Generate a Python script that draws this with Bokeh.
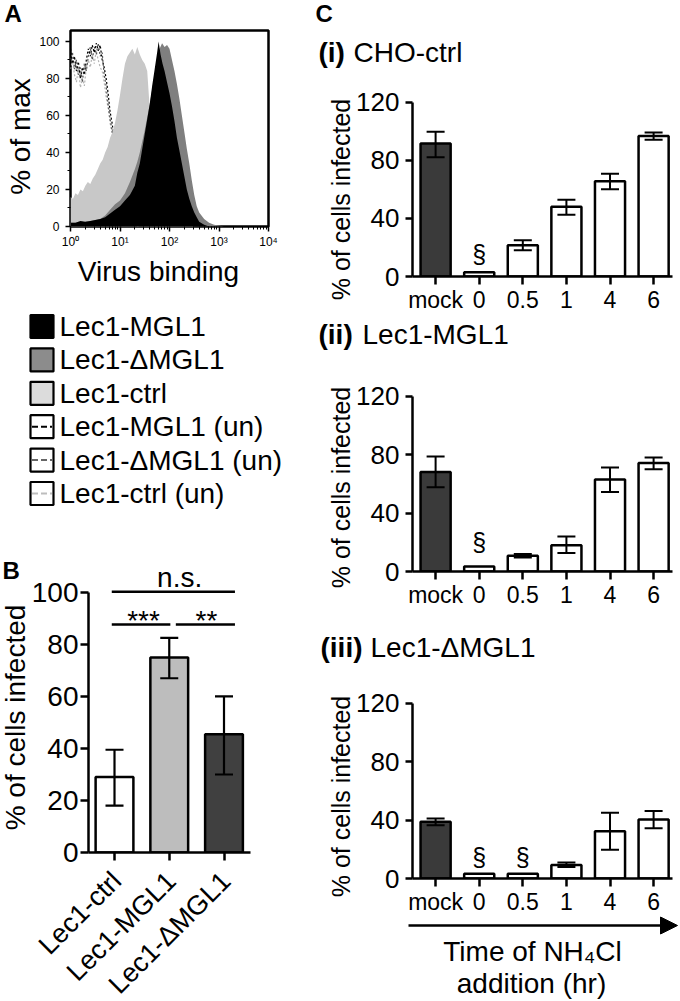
import math
import numpy as np
from bokeh.plotting import figure
from bokeh.models import Range1d, FixedTicker, ColumnDataSource, Whisker, TeeHead, Arrow, NormalHead
from bokeh.core.properties import value
from bokeh.embed import file_html
from bokeh.resources import INLINE

FONT = "Liberation Sans"
NAN = float("nan")
PAGE_W, PAGE_H = 680, 1001

# ---------------- Panel A: flow histogram readings (log10 virus binding, % of max) ----
a_ctrl_logx = [0.00, 0.05, 0.10, 0.15, 0.20, 0.25, 0.30, 0.35, 0.40, 0.45, 0.50, 0.55, 0.60,
               0.65, 0.70, 0.75, 0.80, 0.85, 0.90, 0.95, 1.00, 1.05, 1.10, 1.15, 1.20, 1.25,
               1.30, 1.35, 1.40, 1.45, 1.50, 1.55, 1.60, 1.65, 1.70, 1.80, 1.90, 2.00, 2.10,
               2.20, 2.30, 2.40, 2.50]
a_ctrl_pct = [16, 15, 18, 17, 20, 19, 22, 24, 23, 26, 28, 31, 34, 36, 40, 43, 48, 51, 56, 63,
              71, 80, 88, 92, 94, 96, 93, 97, 93, 90, 88, 84, 64, 52, 42, 28, 18, 12, 7, 4, 2, 1, 0]

a_dmgl1_logx = [0.0, 0.2, 0.4, 0.6, 0.7, 0.8, 0.9, 1.0, 1.1, 1.2, 1.3, 1.35, 1.4, 1.5, 1.6, 1.7,
                1.75, 1.8, 1.85, 1.9, 1.95, 2.0, 2.05, 2.1, 2.15, 2.2, 2.25, 2.3, 2.35, 2.4, 2.45,
                2.5, 2.55, 2.6, 2.7, 2.8, 2.9, 3.0, 3.1]
a_dmgl1_pct = [2, 2, 3, 4, 6, 9, 12, 14, 18, 24, 31, 35, 40, 52, 66, 82, 90, 96, 99, 97, 98, 96,
               90, 84, 77, 69, 60, 51, 42, 34, 25, 17, 11, 7.5, 4, 2, 1, 0.5, 0]

a_mgl1_logx = [0.0, 0.1, 0.2, 0.3, 0.4, 0.5, 0.6, 0.7, 0.8, 0.9, 1.0, 1.1, 1.2, 1.3, 1.35, 1.4,
               1.45, 1.5, 1.55, 1.6, 1.65, 1.7, 1.75, 1.78, 1.82, 1.86, 1.9, 1.95, 2.0, 2.05, 2.1,
               2.15, 2.2, 2.25, 2.3, 2.35, 2.4, 2.45, 2.5, 2.55, 2.6, 2.7, 2.8]
a_mgl1_pct = [2, 2, 3, 2.5, 3, 3.5, 4, 5, 7, 9, 11, 14, 17, 22, 29, 34, 42, 50, 58, 66, 76, 85,
              94, 100, 93, 88, 84, 78, 72, 65, 57, 48, 41, 34, 27, 20, 15, 11, 7.5, 5, 2.5, 1, 0]

a_un_logx = [0.00, 0.04, 0.08, 0.12, 0.16, 0.20, 0.24, 0.28, 0.32, 0.36, 0.40, 0.44, 0.48, 0.52,
             0.56, 0.60, 0.64, 0.68, 0.72, 0.76, 0.80, 0.84, 0.88, 0.95, 1.00, 1.10, 1.20, 1.30, 1.40]
a_un_mgl1_pct = [96, 88, 92, 84, 89, 80, 86, 82, 90, 96, 92, 98, 94, 99, 95, 98, 90, 86, 80, 72,
                 62, 56, 48, 35, 25, 12, 5, 2, 0]
a_un_dmgl1_pct = [90, 94, 85, 90, 82, 86, 78, 88, 84, 92, 97, 90, 97, 93, 99, 92, 94, 82, 76, 66,
                  58, 52, 45, 32, 22, 10, 4, 1, 0]
a_un_ctrl_pct = [85, 90, 82, 78, 86, 75, 80, 76, 86, 90, 86, 93, 88, 95, 90, 86, 84, 78, 70, 64,
                 56, 50, 44, 30, 20, 9, 3, 1, 0]

a_xticks = [1, 10, 100, 1000, 10000]
a_xtick_labels = ["10⁰", "10¹", "10²", "10³", "10⁴"]
a_yticks = [0, 20, 40, 60, 80, 100]

legend_labels = ["Lec1-MGL1", "Lec1-ΔMGL1", "Lec1-ctrl",
                 "Lec1-MGL1 (un)", "Lec1-ΔMGL1 (un)", "Lec1-ctrl (un)"]
legend_fill = ["#000000", "#8c8c8c", "#dcdcdc", "#ffffff", "#ffffff", "#ffffff"]
legend_dash = ["#000000", "#666666", "#bdbdbd"]

# ---------------- Panel B ----------------
b_groups = ["Lec1-ctrl", "Lec1-MGL1", "Lec1-ΔMGL1"]
b_mean = [29, 75, 45.5]
b_low = [18, 67, 30]
b_high = [39.5, 82.5, 60]
b_colors = ["#ffffff", "#bdbdbd", "#404040"]
b_yticks = [0, 20, 40, 60, 80, 100]
b_sig_x0 = [-0.05, -0.05, 1.12]
b_sig_x1 = [2.2, 1.02, 2.2]
b_sig_y = [100.3, 87.7, 87.7]
b_sig_text = ["n.s.", "***", "**"]
b_sig_tx = [1.19, 0.53, 1.68]
b_sig_ty = [105.6, 89.2, 89.2]

# ---------------- Panel C ----------------
c_times = ["mock", "0", "0.5", "1", "4", "6"]
c_colors = ["#3a3a3a", "#ffffff", "#ffffff", "#ffffff", "#ffffff", "#ffffff"]
c_yticks = [0, 40, 80, 120]
c_title_tag = ["(i)", "(ii)", "(iii)"]
c_title_name = ["CHO-ctrl", "Lec1-MGL1", "Lec1-ΔMGL1"]
c_mean_i = [91.5, 3, 21.5, 48, 65.5, 96.7]
c_low_i = [82, NAN, 18, 42.5, 60, 94]
c_high_i = [99.6, NAN, 25, 52.8, 70.6, 99]
c_mark_i = ["", "§", "", "", "", ""]
c_mean_ii = [68, 3.4, 10.7, 18, 63, 74.3]
c_low_ii = [57.7, NAN, 9.5, 12.7, 54.4, 70]
c_high_ii = [78.7, NAN, 12, 24, 71.2, 78]
c_mark_ii = ["", "§", "", "", "", ""]
c_mean_iii = [38.8, 3.2, 3.2, 9.2, 32.3, 40.4]
c_low_iii = [36.5, NAN, NAN, 7.8, 19.6, 34.4]
c_high_iii = [41.1, NAN, NAN, 10.9, 45, 46.2]
c_mark_iii = ["", "§", "§", "", "", ""]


# ---------------- helpers ----------------
def make_fig(w, h, left, right, top, bottom, xr, yr, page_x, page_y, **kw):
    p = figure(width=w, height=h, x_range=xr, y_range=yr, output_backend="svg",
               toolbar_location=None, tools="", min_border_left=left, min_border_right=right,
               min_border_top=top, min_border_bottom=bottom, **kw)
    p.grid.visible = False
    p.outline_line_color = None
    p.background_fill_color = "white"
    p.border_fill_color = "white"
    p.styles = {"position": "absolute", "left": f"{page_x}px", "top": f"{page_y}px"}
    return p


def style_axis(ax, size, tick_out, standoff, lw=2.5):
    ax.axis_line_width = lw
    ax.axis_line_color = "black"
    ax.major_tick_line_width = lw
    ax.major_tick_line_color = "black"
    ax.major_tick_out = tick_out
    ax.major_tick_in = 0
    ax.minor_tick_line_color = None
    ax.major_label_text_font = FONT
    ax.major_label_text_font_size = f"{size}px"
    ax.major_label_text_color = "black"
    ax.major_label_standoff = standoff


# ---------------- Panel A figure (frame: x 70-268, y 30-226) ----------------
pA = make_fig(280, 290, 70, 12, 30, 64, Range1d(1, 10000), Range1d(0, 105.9), 0, 0,
              x_axis_type="log")
pA.outline_line_color = "black"
pA.outline_line_width = 2.5
for pct, col in [(a_un_ctrl_pct, "#b5b5b5"), (a_un_dmgl1_pct, "#555555"),
                 (a_un_mgl1_pct, "#000000")]:
    pA.line(10 ** np.array(a_un_logx), pct, line_dash="2 2", line_color=col, line_width=1.2)
pA.varea(x=10 ** np.array(a_ctrl_logx), y1=0, y2=a_ctrl_pct, fill_color="#c8c8c8")
pA.varea(x=10 ** np.array(a_dmgl1_logx), y1=0, y2=a_dmgl1_pct, fill_color="#7f7f7f")
pA.varea(x=10 ** np.array(a_mgl1_logx), y1=0, y2=a_mgl1_pct, fill_color="#000000")

minor = [m * 10 ** k for k in range(4) for m in range(2, 10)]
xa = pA.xaxis[0]
xa.ticker = FixedTicker(ticks=a_xticks, minor_ticks=minor)
xa.major_label_overrides = {t: s for t, s in zip(a_xticks, a_xtick_labels)}
ya = pA.yaxis[0]
ya.ticker = FixedTicker(ticks=a_yticks, minor_ticks=[10, 30, 50, 70, 90])
for ax in (xa, ya):
    ax.axis_line_color = None
    ax.major_tick_line_color = "black"
    ax.major_tick_line_width = 1.5
    ax.major_tick_out = 5
    ax.major_tick_in = 0
    ax.minor_tick_line_color = "black"
    ax.minor_tick_line_width = 1
    ax.minor_tick_out = 3
    ax.minor_tick_in = 0
    ax.major_label_text_font = FONT
    ax.major_label_text_font_size = "12px"
    ax.major_label_text_color = "black"
    ax.major_label_standoff = 3
ya.major_label_standoff = 6

# ---------------- Panel B figure (frame: x 88-250, y 555-852) ----------------
B_X0, B_X1 = -0.475, 2.484
B_FL, B_FW = 88, 162
pB = make_fig(280, 461, B_FL, 30, 15, 149, Range1d(B_X0, B_X1), Range1d(0, 114.2), 0, 540)
bx = list(range(len(b_groups)))
pB.vbar(x=bx, top=b_mean, bottom=0, width=0.69, fill_color=b_colors, line_color="black",
        line_width=2.5)
srcB = ColumnDataSource(dict(x=bx, lo=b_low, hi=b_high))
pB.add_layout(Whisker(source=srcB, base="x", lower="lo", upper="hi", line_width=2.2,
                      line_color="black", level="annotation",
                      upper_head=TeeHead(size=18, line_width=2.2, line_color="black"),
                      lower_head=TeeHead(size=18, line_width=2.2, line_color="black")))
pB.segment(x0=b_sig_x0, y0=b_sig_y, x1=b_sig_x1, y1=b_sig_y, line_color="black",
           line_width=2.5)
pB.text(x=b_sig_tx, y=b_sig_ty, text=b_sig_text, text_font=value(FONT),
        text_font_size="28px", text_align="center", text_baseline="middle",
        text_color="black")
style_axis(pB.yaxis[0], 28, 8, 2)
pB.yaxis[0].ticker = FixedTicker(ticks=b_yticks)
pB.yaxis[0].bounds = (0, 100)
style_axis(pB.xaxis[0], 26, 8, 0)
pB.xaxis[0].ticker = FixedTicker(ticks=bx)
# the rotated group names are drawn on the overlay (below), so the axis keeps empty labels
pB.xaxis[0].major_label_overrides = {i: "" for i in bx}

# ---------------- Panel C figures ----------------
c_sets = [
    (c_mean_i, c_low_i, c_high_i, c_mark_i),
    (c_mean_ii, c_low_ii, c_high_ii, c_mark_ii),
    (c_mean_iii, c_low_iii, c_high_iii, c_mark_iii),
]
c_page_y = [0, 315, 610]
c_fig_h = [315, 295, 391]
c_top = [95, 74, 86]
c_bottom = [38, 39, 123]
c_mark_off = [18, 25, 17]

c_figs = []
cx = list(range(len(c_times)))
for k, (mean, lo, hi, marks) in enumerate(c_sets):
    p = make_fig(400, c_fig_h[k], 132, 8, c_top[k], c_bottom[k],
                 Range1d(-0.53, -0.53 + 260 / 43.6), Range1d(0, 124.5), 280, c_page_y[k])
    p.vbar(x=cx, top=mean, bottom=0, width=0.69, fill_color=c_colors, line_color="black",
           line_width=2.5)
    keep = [i for i in cx if not math.isnan(lo[i])]
    src = ColumnDataSource(dict(x=[cx[i] for i in keep], lo=[lo[i] for i in keep],
                                hi=[hi[i] for i in keep]))
    p.add_layout(Whisker(source=src, base="x", lower="lo", upper="hi", line_width=2,
                         line_color="black", level="annotation",
                         upper_head=TeeHead(size=18, line_width=2, line_color="black"),
                         lower_head=TeeHead(size=18, line_width=2, line_color="black")))
    mk = [i for i in cx if marks[i]]
    p.text(x=[cx[i] for i in mk], y=[mean[i] for i in mk], text=[marks[i] for i in mk],
           text_font=value(FONT), text_font_size="25px", text_align="center",
           text_baseline="middle", y_offset=-c_mark_off[k], text_color="black")
    style_axis(p.yaxis[0], 26, 7, 6)
    p.yaxis[0].ticker = FixedTicker(ticks=c_yticks)
    p.yaxis[0].bounds = (0, 120)
    style_axis(p.xaxis[0], 23, 8, 2)
    p.xaxis[0].ticker = FixedTicker(ticks=cx)
    p.xaxis[0].major_label_overrides = {i: t for i, t in zip(cx, c_times)}
    c_figs.append(p)

# ---------------- transparent overlay: panel letters, titles, axis titles, legend, arrow ----
ov = figure(width=PAGE_W, height=PAGE_H, x_range=Range1d(0, PAGE_W), y_range=Range1d(0, PAGE_H),
            output_backend="svg", toolbar_location=None, tools="", min_border=0,
            x_axis_location=None, y_axis_location=None)
ov.grid.visible = False
ov.outline_line_color = None
ov.background_fill_color = None
ov.border_fill_color = None
ov.styles = {"position": "absolute", "left": "0px", "top": "0px"}


def otext(X, Y, text, size, bold=False, angle=0.0, align="left"):
    ov.text(x=[X], y=[PAGE_H - Y], text=[text], text_font=value(FONT),
            text_font_size=f"{size}px", text_font_style="bold" if bold else "normal",
            angle=angle, text_align=align, text_baseline="middle", text_color="black")


# panel A texts
otext(4, 13, "A", 24, bold=True)
otext(20, 136, "% of max", 28, angle=math.pi / 2, align="center")
otext(158, 271, "Virus binding", 28, align="center")

# legend
rows_y = 326 + 33.4 * np.arange(len(legend_labels))
ov.rect(x=41.5, y=PAGE_H - rows_y, width=23, height=23, fill_color=legend_fill,
        line_color="black", line_width=2.2)
ov.segment(x0=31.5, y0=PAGE_H - rows_y[3:], x1=51.5, y1=PAGE_H - rows_y[3:],
           line_color=legend_dash, line_dash="6 3", line_width=2)
ov.text(x=59, y=PAGE_H - rows_y, text=legend_labels, text_font=value(FONT),
        text_font_size="28px", text_baseline="middle", text_align="left", text_color="black")

# panel B texts
otext(2, 570, "B", 24, bold=True)
otext(15, 717, "% of cells infected", 28, angle=math.pi / 2, align="center")
# rotated group names under panel B's ticks (tick pixel = frame left + scale of group index)
b_tick_px = [B_FL + (i - B_X0) * B_FW / (B_X1 - B_X0) + 2 for i in bx]
ov.text(x=b_tick_px, y=[PAGE_H - 876] * len(bx), text=b_groups, text_font=value(FONT),
        text_font_size="27px", text_align="right", text_baseline="middle",
        angle=math.pi / 4, text_color="black")

# panel C texts
otext(315, 13, "C", 24, bold=True)
c_title_y = [52, 334, 647]
c_tag_x = [318, 318, 320]
c_name_x = [353, 362, 370]
c_ylab_y = [199, 487, 796]
for k in range(3):
    otext(c_tag_x[k], c_title_y[k], c_title_tag[k], 28, bold=True)
    otext(c_name_x[k], c_title_y[k], c_title_name[k], 28)
    otext(340, c_ylab_y[k], "% of cells infected", 25, angle=math.pi / 2, align="center")

ov.add_layout(Arrow(x_start=408, y_start=PAGE_H - 925, x_end=677, y_end=PAGE_H - 925,
                    line_width=2.5, line_color="black",
                    end=NormalHead(size=17, fill_color="black", line_color="black")))
otext(532, 951, "Time of NH₄Cl", 28, align="center")
otext(531, 983, "addition (hr)", 28, align="center")

roots = [pA, pB] + c_figs + [ov]
open("out.html", "w").write(file_html(roots, INLINE))
